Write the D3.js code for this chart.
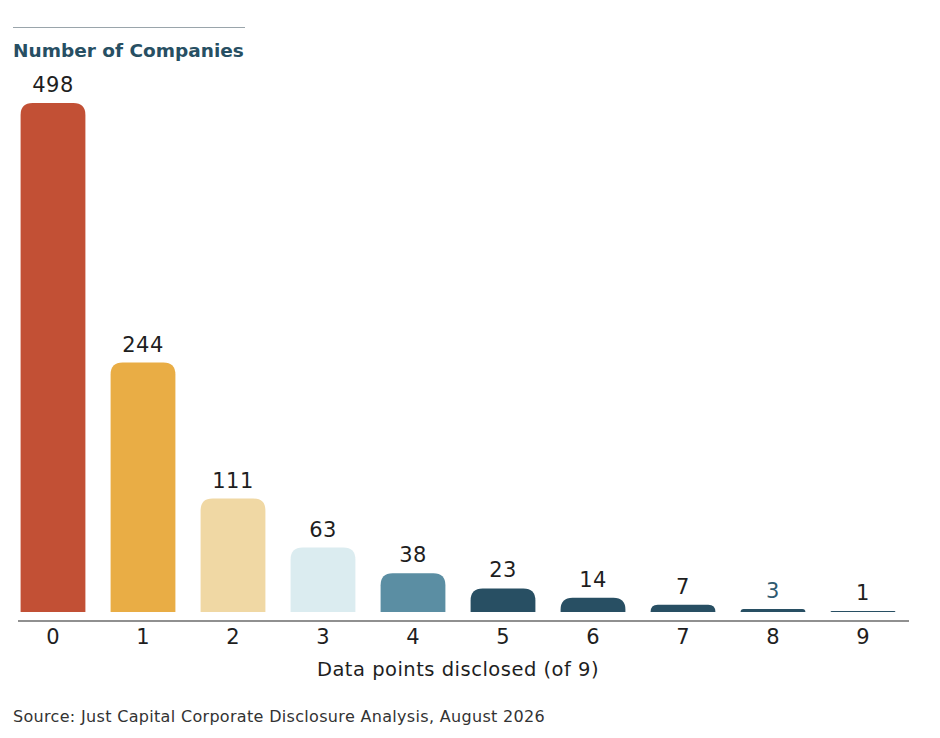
<html>
<head>
  <meta charset="utf-8">
  <title>Number of Companies by Data Points Disclosed</title>
  <style>
    body { margin: 0; background: #fff; font-family: "DejaVu Sans", sans-serif; }
  </style>
  <script src="https://d3js.org/d3.v7.min.js"></script>
</head>
<body>
  <div id="chart"></div>
  <script>
    // data
    var categories = ["0", "1", "2", "3", "4", "5", "6", "7", "8", "9"];
    var companies = [498, 244, 111, 63, 38, 23, 14, 7, 3, 1];
    var barColors = ["#c25035", "#e9ad45", "#f0d8a4", "#dbecf0", "#5b8ea3",
                     "#284f63", "#284f63", "#284f63", "#284f63", "#284f63"];

    var W = 940, H = 738;
    var svg = d3.select("#chart").append("svg")
        .attr("width", W)
        .attr("height", H);

    // scales
    var x = d3.scaleBand()
        .domain(categories)
        .range([8, 908])
        .paddingInner(0.28)
        .paddingOuter(0.14);
    var y = d3.scaleLinear()
        .domain([0, 498])
        .range([612, 103]);

    // top-rounded bar path
    function barPath(i) {
      var x0 = x(categories[i]), w = x.bandwidth();
      var y0 = y(companies[i]), y1 = y(0);
      var r = Math.min(12, y1 - y0, w / 2);
      return "M" + x0 + "," + y1 +
             "V" + (y0 + r) +
             "Q" + x0 + "," + y0 + " " + (x0 + r) + "," + y0 +
             "H" + (x0 + w - r) +
             "Q" + (x0 + w) + "," + y0 + " " + (x0 + w) + "," + (y0 + r) +
             "V" + y1 + "Z";
    }

    // header
    svg.append("line")
        .attr("x1", 13).attr("x2", 245)
        .attr("y1", 27.5).attr("y2", 27.5)
        .attr("stroke", "#9aa5ab").attr("stroke-width", 1);
    svg.append("text")
        .attr("x", 13).attr("y", 57)
        .attr("fill", "#274f63")
        .style("font-size", "18.5px")
        .style("font-weight", "700")
        .text("Number of Companies");

    // bars
    svg.selectAll(".bar")
        .data(companies)
        .enter().append("path")
        .attr("class", "bar")
        .attr("d", function(d, i) { return barPath(i); })
        .attr("fill", function(d, i) { return barColors[i]; });

    // value labels
    svg.selectAll(".value")
        .data(companies)
        .enter().append("text")
        .attr("class", "value")
        .attr("x", function(d, i) { return x(categories[i]) + x.bandwidth() / 2; })
        .attr("y", function(d) { return y(d) - 11; })
        .attr("text-anchor", "middle")
        .attr("fill", function(d, i) { return i === 8 ? "#2f5a70" : "#1e1e1e"; })
        .style("font-size", "21px")
        .style("letter-spacing", "0.5px")
        .text(function(d) { return d; });

    // x axis
    var xAxis = svg.append("g")
        .attr("transform", "translate(0,621)")
        .call(d3.axisBottom(x).tickSize(0).tickPadding(8));
    xAxis.select(".domain").remove();
    xAxis.append("line")
        .attr("x1", 18).attr("x2", 909)
        .attr("stroke", "#222").attr("stroke-width", 1.2);
    xAxis.selectAll(".tick text")
        .attr("fill", "#1e1e1e")
        .style("font-family", "'DejaVu Sans', sans-serif")
        .style("font-size", "21px");

    svg.append("text")
        .attr("x", 458).attr("y", 676)
        .attr("text-anchor", "middle")
        .attr("fill", "#1e1e1e")
        .style("font-size", "19.5px")
        .style("letter-spacing", "0.5px")
        .text("Data points disclosed (of 9)");

    // source
    svg.append("text")
        .attr("x", 13).attr("y", 722)
        .attr("fill", "#333")
        .style("font-size", "16px")
        .style("letter-spacing", "0.32px")
        .text("Source: Just Capital Corporate Disclosure Analysis, August 2026");
  </script>
</body>
</html>
